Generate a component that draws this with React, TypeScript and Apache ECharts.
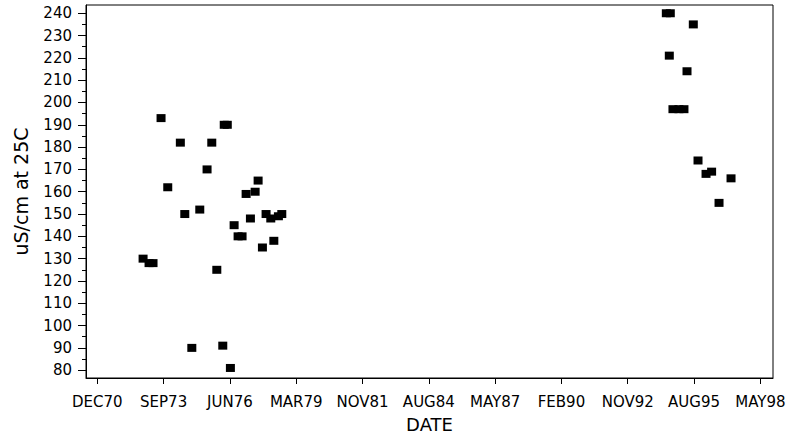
import React, { useEffect, useRef } from "react";
import * as echarts from "echarts";

// Sample dates and conductivity values (uS/cm at 25C)
const sampleDates: string[] = [
  "1972-11-03", "1973-02-01", "1973-04-02", "1973-08-01", "1973-11-10",
  "1974-05-19", "1974-07-25", "1974-11-08", "1975-03-08", "1975-06-26",
  "1975-09-05", "1975-11-20", "1976-02-18", "1976-03-11", "1976-04-26",
  "1976-06-12", "1976-08-07", "1976-10-06", "1976-12-05", "1977-02-04",
  "1977-04-10", "1977-06-20", "1977-08-04", "1977-10-08", "1977-12-02",
  "1978-02-11", "1978-03-29", "1978-06-06", "1978-07-27",
  "1994-06-13", "1994-08-12", "1994-07-28", "1994-09-21", "1994-12-20",
  "1995-03-06", "1995-04-21", "1995-07-25", "1995-10-04", "1996-02-02",
  "1996-04-26", "1996-08-16", "1997-02-13",
];
const conductivity: number[] = [
  130, 128, 128, 193, 162,
  182, 150, 90, 152, 170,
  182, 125, 91, 190, 190,
  81, 145, 140, 140, 159,
  148, 160, 165, 135, 150,
  148, 138, 149, 150,
  240, 240, 221, 197, 197,
  197, 214, 235, 174, 168,
  169, 155, 166,
];

// Axis ticks (x in days since 1960-01-01, SAS date values)
const xTickDays: number[] = [4000, 5000, 6000, 7000, 8000, 9000, 10000, 11000, 12000, 13000, 14000];
const yMajorTicks: number[] = [80, 90, 100, 110, 120, 130, 140, 150, 160, 170, 180, 190, 200, 210, 220, 230, 240];
const yMinorTicks: number[] = [85, 95, 105, 115, 125, 135, 145, 155, 165, 175, 185, 195, 205, 215, 225, 235];

const EPOCH = Date.UTC(1960, 0, 1);
const MONTHS = ["JAN", "FEB", "MAR", "APR", "MAY", "JUN", "JUL", "AUG", "SEP", "OCT", "NOV", "DEC"];
const toDays = (s: string) => (Date.parse(s + "T00:00:00Z") - EPOCH) / 86400000;
const fmtDay = (d: number) => {
  const dt = new Date(EPOCH + d * 86400000);
  return MONTHS[dt.getUTCMonth()] + String(dt.getUTCFullYear() % 100).padStart(2, "0");
};

const FONT = "DejaVu Sans";

export default function App() {
  const ref = useRef<HTMLDivElement>(null);
  useEffect(() => {
    document.body.style.margin = "0";
    if (!ref.current) return;
    const chart = echarts.init(ref.current, null, { renderer: "svg" });
    const data = sampleDates.map((d, i) => [toDays(d), conductivity[i]]);
    const yMin = 76.5;
    const yMax = 243.7;
    chart.setOption({
      animation: false,
      backgroundColor: "#fff",
      textStyle: { fontFamily: FONT, color: "#000" },
      grid: {
        left: 86, right: 16, top: 5, bottom: 59,
        containLabel: false,
        outerBoundsMode: "none",
        show: true, borderColor: "#000", borderWidth: 1, backgroundColor: "transparent",
      },
      xAxis: {
        type: "value",
        min: 3829,
        max: 14191,
        name: "DATE",
        nameLocation: "middle",
        nameGap: 37,
        nameTextStyle: { fontFamily: FONT, fontSize: 18, color: "#000" },
        axisLine: { show: true, lineStyle: { color: "#000", width: 1 } },
        axisTick: { show: true, length: 6, lineStyle: { color: "#000" }, customValues: xTickDays },
        axisLabel: {
          fontFamily: FONT, fontSize: 15, color: "#000", margin: 16,
          customValues: xTickDays,
          formatter: (v: number) => fmtDay(v),
        },
        splitLine: { show: false },
      },
      yAxis: [
        {
          type: "value",
          min: yMin,
          max: yMax,
          name: "uS/cm at 25C",
          nameLocation: "middle",
          nameGap: 56,
          nameRotate: 90,
          nameTextStyle: { fontFamily: FONT, fontSize: 19, color: "#000" },
          axisLine: { show: true, lineStyle: { color: "#000", width: 1 } },
          axisTick: { show: true, length: 8, lineStyle: { color: "#000" }, customValues: yMajorTicks },
          axisLabel: {
            fontFamily: FONT, fontSize: 15, color: "#000", margin: 14,
            customValues: yMajorTicks,
          },
          splitLine: { show: false },
        },
        {
          type: "value",
          min: yMin,
          max: yMax,
          position: "left",
          axisLine: { show: false },
          axisTick: { show: true, length: 4, lineStyle: { color: "#000" }, customValues: yMinorTicks },
          axisLabel: { show: false },
          splitLine: { show: false },
        },
      ],
      series: [
        {
          type: "scatter",
          data,
          symbol: "rect",
          symbolSize: [9, 8],
          itemStyle: { color: "#000", opacity: 1 },
          emphasis: { disabled: true },
        },
      ],
    });
    return () => chart.dispose();
  }, []);
  return <div ref={ref} style={{ width: 789, height: 437 }} />;
}
